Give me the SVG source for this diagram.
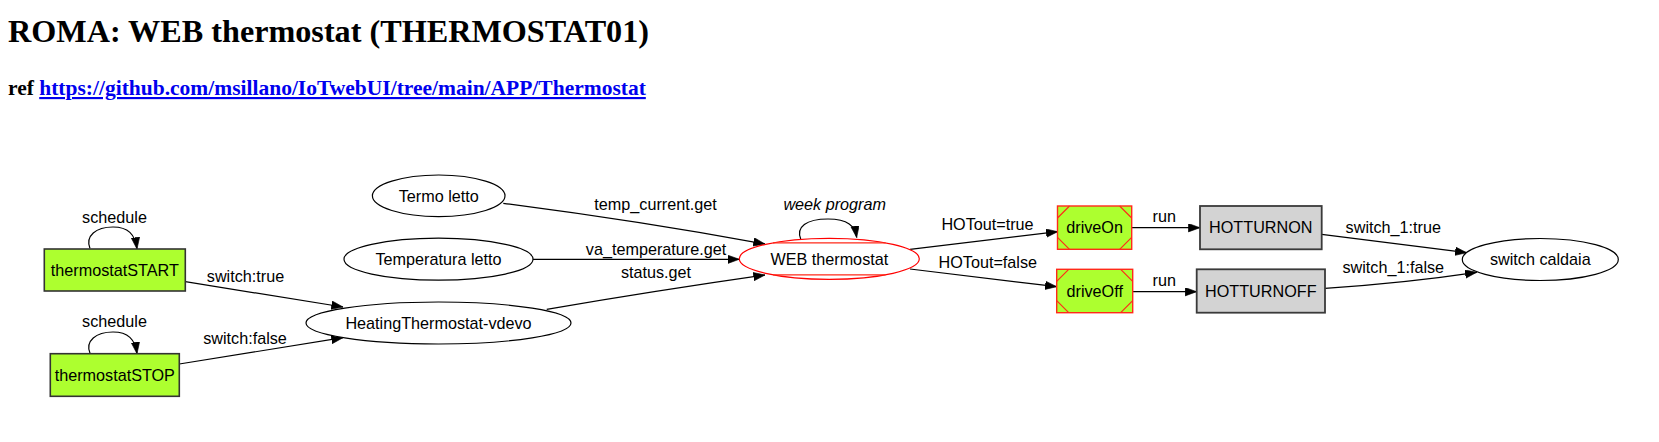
<svg xmlns="http://www.w3.org/2000/svg" width="1659" height="442" viewBox="0 0 1659 442">
<style>
  .lbl { font-family: "Liberation Sans", Arial, sans-serif; font-size: 16.2px; fill: #000; text-anchor: middle; }
  .it { font-style: italic; }
  .ell { fill: #fff; stroke: #000; stroke-width: 1.2; }
  .red { fill: #fff; stroke: #ff0000; stroke-width: 1.2; }
  .green { fill: #adff2f; stroke: #333; stroke-width: 1.6; }
  .msq { fill: #adff2f; stroke: #ff2a1a; stroke-width: 1.4; }
  .msql { fill: none; stroke: #ff2a1a; stroke-width: 1.2; }
  .grey { fill: #d3d3d3; stroke: #3a3a3a; stroke-width: 1.8; }
  .edge { fill: none; stroke: #000; stroke-width: 1.2; marker-end: url(#arr); }
  .title { font-family: "Liberation Serif", "Times New Roman", serif; font-weight: bold; fill: #000; }
</style>
<defs>
  <marker id="arr" markerUnits="userSpaceOnUse" markerWidth="12" markerHeight="9" refX="11.6" refY="4.2" orient="auto">
    <path d="M0,0 L11.6,4.2 L0,8.4 z" fill="#000" stroke="#000" stroke-width="0.6"/>
  </marker>
</defs>
<rect width="1659" height="442" fill="#fff"/>
<text class="title" x="8" y="41.7" font-size="32.2">ROMA: WEB thermostat (THERMOSTAT01)</text>
<text class="title" x="8" y="95" font-size="21.5">ref <tspan fill="#0000ee" text-decoration="underline">https://github.com/msillano/IoTwebUI/tree/main/APP/Thermostat</tspan></text>

<g id="connectors">
  <path class="edge" d="M90,248.5 C85,236 96,227 113,227 C128,227 135,234 137,249"/>
  <text class="lbl" x="114.5" y="222.7">schedule</text>
  <path class="edge" d="M90,353.2 C85,341 96,332 113,332 C128,332 135,339 137,353.7"/>
  <text class="lbl" x="114.5" y="327.3">schedule</text>
  <path class="edge" d="M185.3,281.7 L343,307"/>
  <text class="lbl" x="245.5" y="281.7">switch:true</text>
  <path class="edge" d="M179.3,364 L343,337.7"/>
  <text class="lbl" x="245" y="344">switch:false</text>
  <path class="edge" d="M503.3,203.3 Q640,221 765,244"/>
  <text class="lbl" x="655.5" y="210">temp_current.get</text>
  <path class="edge" d="M533,259.3 L739.3,259.3"/>
  <text class="lbl" x="656" y="255">va_temperature.get</text>
  <path class="edge" d="M546.7,309.3 Q660,290 765,275"/>
  <text class="lbl" x="656" y="278.3">status.get</text>
  <path class="edge" d="M800.7,239 C796,227 806,219 828,219 C848,219 855,226 856.7,237.5"/>
  <text class="lbl it" x="834.7" y="210">week program</text>
  <path class="edge" d="M910,249.3 L1057.7,231.7"/>
  <text class="lbl" x="987.5" y="230">HOTout=true</text>
  <path class="edge" d="M910,269 L1056.7,286.7"/>
  <text class="lbl" x="987.8" y="268.3">HOTout=false</text>
  <path class="edge" d="M1131.7,227.7 L1200,227.7"/>
  <text class="lbl" x="1164.3" y="221.7">run</text>
  <path class="edge" d="M1132.7,291.7 L1196.7,291.7"/>
  <text class="lbl" x="1164.3" y="286">run</text>
  <path class="edge" d="M1321.7,234.3 L1466.7,252.7"/>
  <text class="lbl" x="1393.3" y="232.7">switch_1:true</text>
  <path class="edge" d="M1325,288.3 Q1405,283 1476.7,272.3"/>
  <text class="lbl" x="1393.3" y="273.3">switch_1:false</text>
</g>

<g id="thermostatSTART">
  <rect class="green" x="44.3" y="249" width="141" height="42"/>
  <text class="lbl" x="114.8" y="275.8">thermostatSTART</text>
</g>
<g id="thermostatSTOP">
  <rect class="green" x="50.3" y="353.7" width="129" height="42.6"/>
  <text class="lbl" x="114.8" y="380.5">thermostatSTOP</text>
</g>
<g id="HeatingThermostat-vdevo">
  <ellipse class="ell" cx="438.5" cy="323" rx="132.5" ry="21"/>
  <text class="lbl" x="438.5" y="328.7">HeatingThermostat-vdevo</text>
</g>
<g id="Termo-letto">
  <ellipse class="ell" cx="438.7" cy="195.8" rx="66.3" ry="20.8"/>
  <text class="lbl" x="438.7" y="201.5">Termo letto</text>
</g>
<g id="Temperatura-letto">
  <ellipse class="ell" cx="438.5" cy="259.2" rx="94.5" ry="21"/>
  <text class="lbl" x="438.5" y="264.9">Temperatura letto</text>
</g>
<g id="WEB-thermostat">
  <ellipse class="red" cx="829.3" cy="258.8" rx="90" ry="20.5"/>
  <path class="msql" d="M773,242.8 L885.6,242.8 M773,274.8 L885.6,274.8"/>
  <text class="lbl" x="829.3" y="264.5">WEB thermostat</text>
</g>
<g id="driveOn">
  <rect class="msq" x="1057.5" y="206" width="74.2" height="43.3"/>
  <path class="msql" d="M1057.5,218 L1069.5,206 M1119.7,206 L1131.7,218 M1131.7,237.3 L1119.7,249.3 M1069.5,249.3 L1057.5,237.3"/>
  <text class="lbl" x="1094.6" y="233.2">driveOn</text>
</g>
<g id="driveOff">
  <rect class="msq" x="1056.7" y="269.3" width="76" height="43.4"/>
  <path class="msql" d="M1056.7,281.3 L1068.7,269.3 M1120.7,269.3 L1132.7,281.3 M1132.7,300.7 L1120.7,312.7 M1068.7,312.7 L1056.7,300.7"/>
  <text class="lbl" x="1094.7" y="296.6">driveOff</text>
</g>
<g id="HOTTURNON">
  <rect class="grey" x="1200" y="206" width="121.7" height="43.3"/>
  <text class="lbl" x="1260.8" y="233.2">HOTTURNON</text>
</g>
<g id="HOTTURNOFF">
  <rect class="grey" x="1196.7" y="269.3" width="128.3" height="43.4"/>
  <text class="lbl" x="1260.8" y="296.6">HOTTURNOFF</text>
</g>
<g id="switch-caldaia">
  <ellipse class="ell" cx="1540.3" cy="259.5" rx="78" ry="21"/>
  <text class="lbl" x="1540.3" y="265.2">switch caldaia</text>
</g>
</svg>
